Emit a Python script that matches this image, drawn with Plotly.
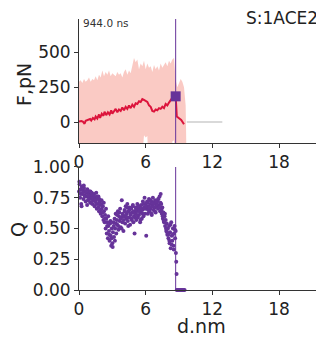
import plotly.graph_objects as go

# ---- Force panel data ----
force_d = [0.0, 0.2, 0.35, 0.5, 0.6, 0.8, 1.0, 1.1, 1.25, 1.4, 1.5, 1.65, 1.8, 1.9, 2.05, 2.2, 2.3, 2.45,
           2.6, 2.75, 2.9, 3.0, 3.15, 3.3, 3.45, 3.6, 3.75, 3.9, 4.05, 4.2, 4.35, 4.5, 4.65, 4.8, 4.95,
           5.1, 5.25, 5.4, 5.55, 5.7, 5.85, 6.0, 6.15, 6.3, 6.45, 6.6, 6.75, 6.9, 7.05, 7.2, 7.35, 7.5,
           7.65, 7.8, 7.95, 8.1, 8.25, 8.4, 8.55, 8.7, 8.8, 9.0, 9.2, 9.45]
force_mean = [5, 8, 3, -12, 10, 15, 22, 12, 30, 20, 40, 25, 55, 30, 60, 45, 75, 50,
              70, 55, 85, 60, 75, 95, 70, 90, 80, 105, 85, 110, 95, 120, 100, 125, 110,
              135, 130, 150, 145, 165, 160, 150, 145, 120, 110, 80, 75, 90, 85, 100, 95, 110,
              100, 130, 120, 140, 155, 175, 165, 186, 40, 30, 15, -15]

band_d = [0.0, 0.15, 0.3, 0.45, 0.6, 0.75, 0.9, 1.05, 1.2, 1.35, 1.5, 1.65, 1.8, 1.95, 2.1, 2.25, 2.4,
          2.55, 2.7, 2.85, 3.0, 3.15, 3.3, 3.45, 3.6, 3.75, 3.9, 4.05, 4.2, 4.35, 4.5, 4.65, 4.8, 4.95,
          5.1, 5.25, 5.4, 5.55, 5.7, 5.85, 6.0, 6.15, 6.3, 6.45, 6.6, 6.75, 6.9, 7.05, 7.2, 7.35, 7.5,
          7.65, 7.8, 7.95, 8.1, 8.25, 8.4, 8.55, 8.7, 8.85, 9.0, 9.15, 9.3, 9.45, 9.6, 9.7]
band_upper = [290, 300, 280, 310, 290, 300, 320, 290, 310, 300, 330, 300, 340, 320, 370, 330, 360,
              340, 370, 330, 350, 340, 330, 360, 340, 350, 320, 360, 380, 340, 370, 350, 400, 460,
              430, 450, 380, 420, 400, 440, 380, 420, 390, 400, 360, 410, 380, 400, 370, 420, 390,
              410, 430, 400, 440, 420, 450, 460, 300, 250, 280, 310, 290, 250, 120, -150]
band_lower = [-400, -400, -400, -400, -400, -400, -400, -400, -400, -400, -400, -400, -400, -400, -400, -400, -400,
              -400, -400, -400, -400, -400, -400, -400, -400, -400, -400, -400, -400, -400, -400, -400, -400, -400,
              -400, -400, -400, -400, -400, -95, -110, -100, -400, -400, -400, -400, -400, -400, -400, -400, -400,
              -400, -400, -400, -400, -400, -140, -130, -400, -400, -400, -400, -400, -400, -400, -400]

zero_d = [9.7, 12.9]
zero_f = [0, 0]

rupture_d = 8.7
rupture_f = 185

# ---- Q panel data ----
q_d = [0.00, 0.05, 0.10, 0.15, 0.20, 0.25, 0.30, 0.35, 0.40, 0.45, 0.50, 0.55, 0.60, 0.65, 0.70, 0.75, 0.80, 0.85, 0.90, 0.95, 1.00,
       1.05, 1.10, 1.15, 1.20, 1.25, 1.30, 1.35, 1.40, 1.45, 1.50, 1.55, 1.60, 1.65, 1.70, 1.75, 1.80, 1.85, 1.90, 1.95, 2.00,
       2.05, 2.10, 2.15, 2.20, 2.25, 2.30, 2.35, 2.40, 2.45, 2.50, 2.55, 2.60, 2.65, 2.70, 2.75, 2.80, 2.85, 2.90, 2.95, 3.00,
       3.05, 3.10, 3.15, 3.20, 3.25, 3.30, 3.35, 3.40, 3.45, 3.50, 3.55, 3.60, 3.65, 3.70, 3.75, 3.80, 3.85, 3.90, 3.95, 4.00,
       4.05, 4.10, 4.15, 4.20, 4.25, 4.30, 4.35, 4.40, 4.45, 4.50, 4.55, 4.60, 4.65, 4.70, 4.75, 4.80, 4.85, 4.90, 4.95, 5.00,
       5.05, 5.10, 5.15, 5.20, 5.25, 5.30, 5.35, 5.40, 5.45, 5.50, 5.55, 5.60, 5.65, 5.70, 5.75, 5.80, 5.85, 5.90, 5.95, 6.00,
       6.05, 6.10, 6.15, 6.20, 6.25, 6.30, 6.35, 6.40, 6.45, 6.50, 6.55, 6.60, 6.65, 6.70, 6.75, 6.80, 6.85, 6.90, 6.95, 7.00,
       7.05, 7.10, 7.15, 7.20, 7.25, 7.30, 7.35, 7.40, 7.45, 7.50, 7.55, 7.60, 7.65, 7.70, 7.75, 7.80, 7.85, 7.90, 7.95, 8.00,
       8.05, 8.10, 8.15, 8.20, 8.25, 8.30, 8.35, 8.40, 8.45, 8.50, 8.55, 8.60, 8.65, 8.70,
       8.72, 8.75, 8.78, 8.80, 8.90, 9.00, 9.10, 9.20, 9.30, 9.40, 9.50]
q_val = [0.80, 0.86, 0.75, 0.82, 0.70, 0.84, 0.78, 0.81, 0.74, 0.83, 0.77, 0.80, 0.72, 0.79, 0.76, 0.82, 0.73, 0.78, 0.75, 0.80, 0.71,
         0.77, 0.74, 0.79, 0.70, 0.76, 0.73, 0.78, 0.68, 0.75, 0.72, 0.79, 0.66, 0.74, 0.70, 0.76, 0.64, 0.72, 0.69, 0.62, 0.70,
         0.66, 0.60, 0.68, 0.57, 0.64, 0.55, 0.61, 0.50, 0.58, 0.46, 0.55, 0.42, 0.52, 0.48, 0.40, 0.54, 0.44, 0.36, 0.50, 0.38,
         0.47, 0.55, 0.43, 0.58, 0.50, 0.62, 0.46, 0.57, 0.53, 0.64, 0.49, 0.60, 0.56, 0.66, 0.51, 0.59, 0.73, 0.55, 0.61, 0.48,
         0.60, 0.65, 0.54, 0.68, 0.58, 0.62, 0.70, 0.56, 0.64, 0.59, 0.67, 0.53, 0.61, 0.66, 0.57, 0.63, 0.69, 0.55, 0.60, 0.46,
         0.62, 0.67, 0.57, 0.64, 0.70, 0.59, 0.66, 0.61, 0.68, 0.55, 0.63, 0.69, 0.58, 0.65, 0.72, 0.60, 0.67, 0.75, 0.62, 0.70,
         0.44, 0.66, 0.71, 0.62, 0.68, 0.74, 0.64, 0.70, 0.66, 0.72, 0.61, 0.69, 0.75, 0.65, 0.71, 0.67, 0.73, 0.63, 0.70, 0.68,
         0.72, 0.66, 0.74, 0.69, 0.76, 0.64, 0.78, 0.70, 0.62, 0.67, 0.58, 0.63, 0.55, 0.60, 0.52, 0.57, 0.48, 0.54, 0.45, 0.50,
         0.42, 0.52, 0.38, 0.47, 0.34, 0.55, 0.44, 0.40, 0.50, 0.36, 0.46, 0.52, 0.42, 0.48,
         0.30, 0.23, 0.13, 0.0, 0.0, 0.0, 0.0, 0.0, 0.0, 0.0, 0.0]
# second, interleaved set of frames
q_d_b = [0.03, 0.13, 0.23, 0.33, 0.43, 0.53, 0.63, 0.73, 0.83, 0.93, 1.03, 1.13, 1.23, 1.33, 1.43, 1.53, 1.63, 1.73, 1.83, 1.93,
         2.03, 2.13, 2.23, 2.33, 2.43, 2.53, 2.63, 2.73, 2.83, 2.93, 3.03, 3.13, 3.23, 3.33, 3.43, 3.53, 3.63, 3.73, 3.83, 3.93,
         4.03, 4.13, 4.23, 4.33, 4.43, 4.53, 4.63, 4.73, 4.83, 4.93, 5.03, 5.13, 5.23, 5.33, 5.43, 5.53, 5.63, 5.73, 5.83, 5.93,
         6.03, 6.13, 6.23, 6.33, 6.43, 6.53, 6.63, 6.73, 6.83, 6.93, 7.03, 7.13, 7.23, 7.33, 7.43, 7.53, 7.63, 7.73, 7.83, 7.93,
         8.03, 8.13, 8.23, 8.33, 8.43, 8.53, 8.63]
q_val_b = [0.88, 0.78, 0.68, 0.79, 0.85, 0.76, 0.80, 0.69, 0.77, 0.74, 0.80, 0.71, 0.75, 0.77, 0.73, 0.70, 0.76, 0.67, 0.74, 0.65,
           0.73, 0.63, 0.71, 0.58, 0.66, 0.52, 0.60, 0.45, 0.56, 0.42, 0.35, 0.52, 0.40, 0.54, 0.61, 0.52, 0.63, 0.58, 0.50, 0.62,
           0.57, 0.64, 0.60, 0.67, 0.52, 0.65, 0.62, 0.58, 0.68, 0.64, 0.59, 0.65, 0.61, 0.68, 0.64, 0.57, 0.66, 0.62, 0.70, 0.66,
           0.68, 0.72, 0.65, 0.67, 0.73, 0.62, 0.68, 0.70, 0.64, 0.72, 0.69, 0.74, 0.67, 0.71, 0.65, 0.60, 0.56, 0.62, 0.50, 0.47,
           0.45, 0.40, 0.53, 0.37, 0.45, 0.33, 0.49]

x_ticks = [0, 6, 12, 18]
f_ticks = [0, 250, 500]
q_ticks = [0, 0.25, 0.5, 0.75, 1.0]
q_ticktext = ["0.00", "0.25", "0.50", "0.75", "1.00"]

PURPLE = "#663399"
RED = "#dc143c"
BAND = "rgba(246,150,138,0.5)"
AX = "#333333"
FONT = "DejaVu Sans"

fig = go.Figure()

fig.add_trace(go.Scatter(
    x=band_d + band_d[::-1], y=band_upper + band_lower[::-1],
    fill="toself", fillcolor=BAND, line=dict(width=0), mode="lines",
    xaxis="x", yaxis="y", hoverinfo="skip", showlegend=False))
fig.add_trace(go.Scatter(x=zero_d, y=zero_f, mode="lines",
                         line=dict(color="#cccccc", width=1.5), xaxis="x", yaxis="y", showlegend=False))
fig.add_trace(go.Scatter(x=force_d, y=force_mean, mode="lines",
                         line=dict(color=RED, width=2), xaxis="x", yaxis="y", showlegend=False))
fig.add_trace(go.Scatter(x=[rupture_d], y=[rupture_f], mode="markers",
                         marker=dict(symbol="square", size=10, color=PURPLE), xaxis="x", yaxis="y",
                         showlegend=False))

fig.add_trace(go.Scatter(x=q_d + q_d_b, y=q_val + q_val_b, mode="markers",
                         marker=dict(size=4, color=PURPLE), xaxis="x2", yaxis="y2",
                         cliponaxis=False, showlegend=False))

axis_common = dict(showline=True, linecolor=AX, linewidth=1, ticks="outside", ticklen=4,
                   tickcolor=AX, showgrid=False, zeroline=False, mirror=False, automargin=False,
                   tickfont=dict(family=FONT, size=17, color="#222"))

title_font = dict(family=FONT, size=19, color="#222")

# page body has an 8px margin, so the figure is 8px smaller and margins shifted
fig.update_layout(
    width=316, height=329,
    margin=dict(l=71, r=0, t=11, b=47),
    paper_bgcolor="white", plot_bgcolor="white",
    font=dict(family=FONT, color="#222"),
    xaxis=dict(domain=[0, 1], range=[0, 22.05], tickvals=x_ticks, anchor="y", **axis_common),
    yaxis=dict(domain=[0.5424, 1], range=[-150, 740], tickvals=f_ticks, anchor="x", **axis_common),
    xaxis2=dict(domain=[0, 1], range=[0, 22.05], tickvals=x_ticks, anchor="y2", **axis_common),
    yaxis2=dict(domain=[0, 0.4539], range=[0, 1], tickvals=q_ticks, ticktext=q_ticktext, anchor="x2",
                **axis_common),
    shapes=[
        dict(type="line", xref="x", yref="y domain", x0=rupture_d, x1=rupture_d, y0=0, y1=1,
             line=dict(color=PURPLE, width=1)),
        dict(type="line", xref="x2", yref="y2", x0=rupture_d, x1=rupture_d, y0=0, y1=1,
             line=dict(color=PURPLE, width=1)),
    ],
    annotations=[
        dict(text="944.0 ns", xref="paper", yref="paper", x=0.008, y=(290 - 23) / 271, xanchor="left",
             yanchor="middle", showarrow=False, font=dict(family=FONT, size=10.5, color="#333")),
        dict(text="S:1ACE2", xref="paper", yref="paper", x=(320 - 79) / 245, y=(290 - 18) / 271,
             xanchor="right", yanchor="middle", showarrow=False, font=dict(family=FONT, size=17, color="#222")),
        dict(text="F,pN", xref="paper", yref="paper", x=(24 - 79) / 245, y=(290 - 85) / 271,
             xanchor="center", yanchor="middle", textangle=-90, showarrow=False, font=title_font),
        dict(text="Q", xref="paper", yref="paper", x=(18 - 79) / 245, y=(290 - 230) / 271,
             xanchor="center", yanchor="middle", textangle=-90, showarrow=False, font=title_font),
        dict(text="d.nm", xref="paper", yref="paper", x=0.5, y=(290 - 326) / 271,
             xanchor="center", yanchor="middle", showarrow=False, font=title_font),
    ],
)

fig.write_html("out.html")
